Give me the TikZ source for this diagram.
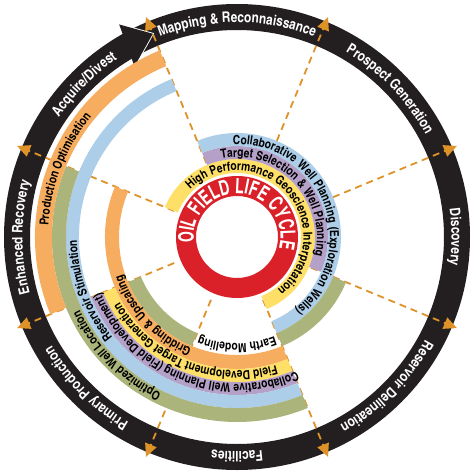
\documentclass[tikz,border=0pt]{standalone}
\usepackage{fontspec}
\newfontfamily\cnb{texgyreheroscn-bold.otf}
\newfontfamily\cnbs{texgyreheroscn-bold.otf}[LetterSpace=6]
\newfontfamily\cnbn{texgyreheroscn-bold.otf}[FakeStretch=0.82]
\usetikzlibrary{decorations.text,arrows.meta}
\definecolor{bandorange}{RGB}{247,173,96}
\definecolor{bandblue}{RGB}{173,206,233}
\definecolor{bandpurple}{RGB}{181,160,200}
\definecolor{bandyellow}{RGB}{254,224,105}
\definecolor{bandgreen}{RGB}{170,180,123}
\definecolor{ringred}{RGB}{218,32,40}
\definecolor{ringblack}{RGB}{35,31,32}
\definecolor{dashorange}{RGB}{222,146,40}
\newcommand\myband[5]{\fill[#1] (#2:#4) arc[start angle=#2,end angle=#3,radius=#4] -- (#3:#5) arc[start angle=#3,end angle=#2,radius=#5] -- cycle;}
\newcommand\arctext[5]{\path[decorate,decoration={text along path,text align=center,text={|#1|#5}}] (#2+#4:#3) arc[start angle=#2+#4,end angle=#2-#4,radius=#3];}
\newcommand\bandfont{\color{black}\cnb\fontsize{12.5}{13}\selectfont}
\newcommand\bandfontwide{\color{black}\cnbs\fontsize{12.5}{13}\selectfont}
\newcommand\ringfont{\color{white}\cnb\fontsize{14.5}{15}\selectfont}
\newcommand\redfont{\color{white}\cnbn\fontsize{21}{22}\selectfont}
\begin{document}
\begin{tikzpicture}[x=1pt,y=1pt,
  dashline/.style={draw=dashorange,line width=1.8pt,dash pattern=on 7pt off 5pt,-{Triangle[length=13pt,width=12pt]}}]
\useasboundingbox (-237,-237) rectangle (237,237);
\fill[white] (-237,-237) rectangle (237,237);
% outer black cycle ring
\fill[ringblack,even odd rule] (0,0) circle[radius=233] (0,0) circle[radius=207];
\coordinate (hA) at (119:243);
\coordinate (hT) at (112.5:220);
\coordinate (hB) at (121:199);
\draw[white,line width=1.8pt,line join=miter] (hA) -- (hT) -- (hB);
\fill[ringblack] (hA) -- (hT) -- (hB) -- cycle;
% dashed phase boundaries
\foreach \a [count=\i] in {22.5,67.5,...,337.5}{
  \coordinate (ds\i) at (\a:68);
  \coordinate (de\i) at (\a:238);
  \draw[dashline] (ds\i) -- (de\i);
}
% central red ring
\fill[ringred,even odd rule] (0,0) circle[radius=61] (0,0) circle[radius=41];
% exploration bands
\myband{bandyellow}{157.5}{-67.5}{64}{78}
\myband{bandpurple}{112.5}{-22.5}{78}{91}
\myband{bandblue}{112.5}{-67.5}{91}{104}
\myband{bandgreen}{-22.5}{-67.5}{104}{118}
% development / production bands
\myband{bandgreen}{-112.5}{-157.5}{104}{118}
\myband{bandorange}{-67.5}{-202.5}{118}{132}
\myband{bandyellow}{-67.5}{-157.5}{132}{145}
\myband{bandpurple}{-67.5}{-157.5}{145}{158}
\myband{bandblue}{-67.5}{-247.5}{158}{171}
\myband{bandgreen}{-67.5}{-202.5}{171}{185}
\myband{bandorange}{-157.5}{-247.5}{185}{202}
% ring labels
\arctext{\ringfont}{90}{214.5}{45}{Mapping {\&} Reconnaissance}
\arctext{\ringfont}{44}{214.5}{45}{Prospect Generation}
\arctext{\ringfont}{0}{214.5}{45}{Discovery}
\arctext{\ringfont}{-45}{214.5}{45}{Reservoir Delineation}
\arctext{\ringfont}{-90}{214.5}{45}{Facilities}
\arctext{\ringfont}{-135}{214.5}{45}{Primary Production}
\arctext{\ringfont}{180}{214.5}{45}{Enhanced Recovery}
\arctext{\ringfont}{135}{214.5}{45}{Acquire/Divest}
% red ring label
\arctext{\redfont}{86}{43.5}{160}{OIL FIELD LIFE CYCLE}
% band labels
\arctext{\bandfont}{41}{66.5}{140}{High Performance Geoscience Interpretation}
\arctext{\bandfont}{44}{80}{110}{Target Selection {\&} Well Planning}
\arctext{\bandfontwide}{20.5}{93}{110}{Collaborative Well Planning (Exploration Wells)}
\arctext{\bandfont}{-90}{106.5}{50}{Earth Modelling}
\arctext{\bandfont}{-137}{120.5}{60}{Gridding {\&} Upscaling}
\arctext{\bandfont}{-112}{134}{80}{Field Development Target Generation}
\arctext{\bandfont}{-112}{147}{80}{Collaborative Well Planning (Field Development)}
\arctext{\bandfont}{-160}{160}{50}{Reservoir Stimulation}
\arctext{\bandfont}{-135.5}{173.5}{50}{Optimized Well Location}
\arctext{\bandfont}{158.5}{189}{50}{Production Optimisation}
\end{tikzpicture}
\end{document}
